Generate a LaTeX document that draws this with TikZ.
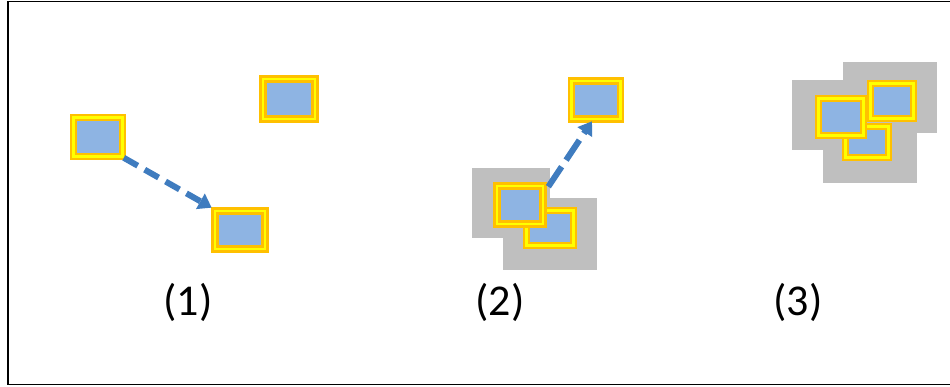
\documentclass[tikz,border=0pt]{standalone}
\usepackage{fontspec}
\setmainfont{Carlito}
\usepackage{xcolor}
\definecolor{BoxBlue}{HTML}{8EB4E3}
\definecolor{BoxGold}{HTML}{FFC000}
\definecolor{BoxYellow}{HTML}{FFFF00}
\definecolor{ZoneGray}{HTML}{BFBFBF}
\definecolor{MoveBlue}{HTML}{3F7CBF}
\usetikzlibrary{positioning,calc,arrows.meta}

\tikzset{
  pbox/.style={rectangle, inner sep=0pt, fill=BoxBlue, draw=BoxGold,
    double=BoxYellow, line width=2.6pt, double distance=2.4pt},
  zone/.style={fill=ZoneGray},
  move/.style={draw=MoveBlue, line width=6pt, dash pattern=on 16pt off 8pt,
    -{Triangle[length=13pt,width=17pt]}},
  lbl/.style={font=\fontsize{44}{48}\selectfont, anchor=base, inner sep=0pt}
}

\begin{document}
\begin{tikzpicture}[x=1pt,y=-1pt]
  \useasboundingbox (0,0) rectangle (950,387);
  \fill[white] (0,0) rectangle (950,387);
  \draw[black, line width=1.5pt] (8,1.5) rectangle (960,384.5);

  % (1) a single move
  \node[pbox, minimum width=49, minimum height=39] (a) at (98,137) {};
  \node[pbox, minimum width=52, minimum height=40] (b) at (289,99) {};
  \node[pbox, minimum width=50, minimum height=38] (c) at (240,230) {};
  \draw[move] (a.south east) -- ($(c.north west)+(-2,-2)$);

  % (2) overlapping zones
  \fill[zone] (472,168) rectangle (550,238);
  \fill[zone] (503,198) rectangle (597,270);
  \node[pbox, minimum width=47, minimum height=35] (f) at (550,228) {};
  \node[pbox, minimum width=46, minimum height=38] (e) at (520,205) {};
  \node[pbox, minimum width=49, minimum height=38] (d) at (596,100) {};
  \draw[move, dash pattern=on 24pt off 8pt] ($(e.north east)+(4,2)$) -- ($(d.south)+(-4,1)$);

  % (3) three zones
  \fill[zone] (843,62) rectangle (937,133);
  \fill[zone] (792,80) rectangle (870,150);
  \fill[zone] (823,123) rectangle (917,183);
  \node[pbox, minimum width=43, minimum height=31] (i) at (867,142) {};
  \node[pbox, minimum width=43, minimum height=35] (h) at (892,101) {};
  \node[pbox, minimum width=45, minimum height=37] (g) at (841,117) {};

  % captions
  \node[lbl] (l1) at (188,315) {(1)};
  \node[lbl] (l2) at (500,315) {(2)};
  \node[lbl] (l3) at (798,315) {(3)};
\end{tikzpicture}
\end{document}
